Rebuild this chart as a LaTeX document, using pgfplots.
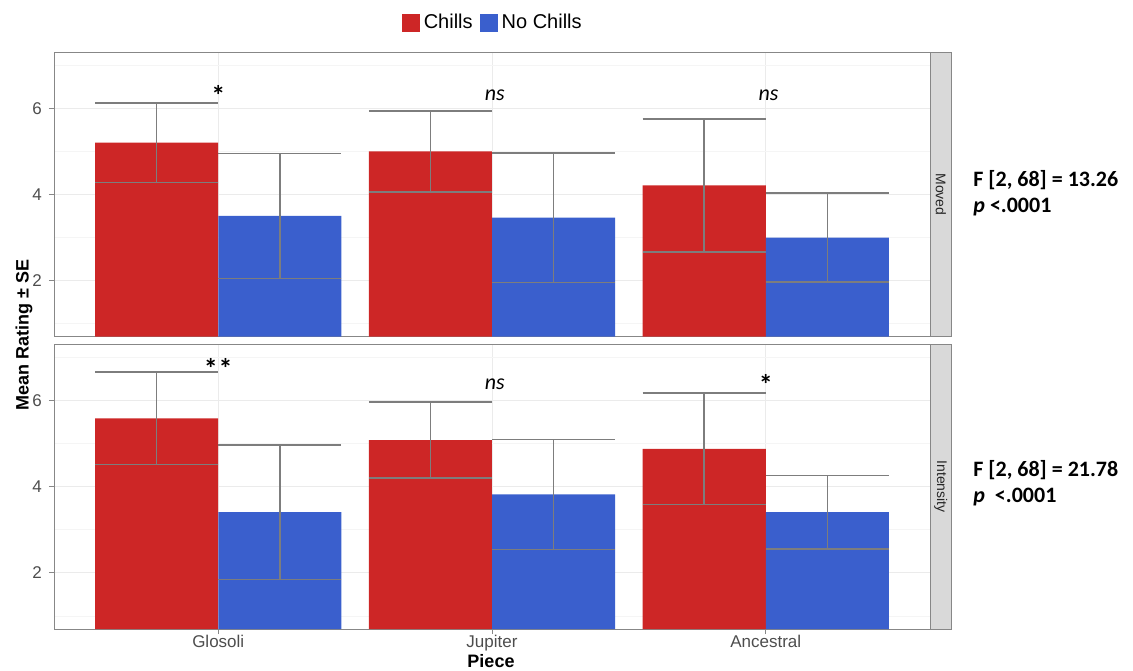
\documentclass[border=0pt]{standalone}
\usepackage{pgfplots}
\usepackage{pgfplotstable}
\pgfplotsset{compat=1.18}
\usepackage{fontspec}
\setmainfont{Liberation Sans}
\newfontfamily\calib{Carlito}
\definecolor{chills}{RGB}{205,38,38}
\definecolor{nochills}{RGB}{58,95,205}
\definecolor{ticktxt}{RGB}{77,77,77}
\definecolor{stripbg}{RGB}{217,217,217}
\definecolor{errc}{RGB}{125,125,125}
\definecolor{bordc}{RGB}{135,135,135}

\pgfplotstableread{
x y e
1 5.20 0.92
2 5.00 0.94
3 4.21 1.54
}\movedC
\pgfplotstableread{
x y e
1 3.50 1.45
2 3.46 1.50
3 3.00 1.03
}\movedN
\pgfplotstableread{
x y e
1 5.585 1.075
2 5.08 0.88
3 4.88 1.29
}\intC
\pgfplotstableread{
x y e
1 3.41 1.56
2 3.82 1.28
3 3.41 0.855
}\intN

\pgfplotsset{
  panel/.style={
    scale only axis, width=438pt, height=142.3pt,
    anchor=south west,
    xmin=0.4, xmax=3.6, ymin=0.7, ymax=7.3,
    ybar, bar width=61.59pt,
    ytick={2,4,6}, minor ytick={1,3,5,7}, xtick={1,2,3},
    ymajorgrids, yminorgrids, xmajorgrids,
    major grid style={draw=black!8, line width=0.5pt},
    minor grid style={draw=black!4, line width=0.4pt},
    axis line style={draw=bordc, line width=0.5pt},
    tick align=outside, tick pos=left,
    major tick length=2.5pt, minor tick length=0pt,
    tick style={draw=bordc, line width=0.5pt},
    /pgf/number format/assume math mode=true,
    tick label style={font=\fontsize{8.5}{10}\selectfont, text=ticktxt},
    error bars/y dir=both, error bars/y explicit,
    error bars/error mark=|,
    error bars/error bar style={draw=errc, line width=0.75pt},
    error bars/error mark options={draw=errc, line width=0.75pt, mark size=30.8pt},
  },
  sqlegend/.style={legend image code/.code={\fill[##1] (0pt,-4.5pt) rectangle (9pt,4.5pt);}},
}

\begin{document}
\begin{tikzpicture}
\useasboundingbox (0,0) rectangle (566.5pt,335pt);

\begin{axis}[panel, name=top, at={(27pt,166.65pt)},
  xticklabels={}, xtick style={draw=none},
  legend style={at={(0.502,1.103)}, anchor=center, draw=none, fill=none,
    legend columns=2, font=\fontsize{10}{12}\selectfont, inner sep=0pt,
    /tikz/every even column/.append style={column sep=1.5pt}},
]
\addplot[ybar, bar shift=-30.8pt, fill=chills, draw=none, sqlegend]
  table[x=x, y=y, y error=e] {\movedC};
\addlegendentry{Chills}
\addplot[ybar, bar shift=30.8pt, fill=nochills, draw=none, sqlegend]
  table[x=x, y=y, y error=e] {\movedN};
\addlegendentry{No Chills}
\node[font=\calib\fontsize{14}{16}\selectfont\bfseries] at (axis cs:1,6.3) {*};
\node[font=\calib\fontsize{11}{13}\selectfont\itshape] at (axis cs:2.01,6.31) {ns};
\node[font=\calib\fontsize{11}{13}\selectfont\itshape] at (axis cs:3.01,6.31) {ns};
\end{axis}
\draw[fill=stripbg, draw=bordc, line width=0.5pt] (top.south east) rectangle ([xshift=10.85pt]top.north east);
\node[rotate=-90, font=\fontsize{7}{8}\selectfont, text=black!85] at ([xshift=5.4pt]top.east) {Moved};

\begin{axis}[panel, name=bot, at={(27pt,20.5pt)},
  xticklabels={Glosoli,Jupiter,Ancestral},
  xticklabel style={yshift=3pt},
]
\addplot[ybar, bar shift=-30.8pt, fill=chills, draw=none]
  table[x=x, y=y, y error=e] {\intC};
\addplot[ybar, bar shift=30.8pt, fill=nochills, draw=none]
  table[x=x, y=y, y error=e] {\intN};
\node[font=\calib\fontsize{14}{16}\selectfont\bfseries] at (axis cs:1,6.74) {*\kern0.5pt*};
\node[font=\calib\fontsize{11}{13}\selectfont\itshape] at (axis cs:2.01,6.37) {ns};
\node[font=\calib\fontsize{14}{16}\selectfont\bfseries] at (axis cs:3,6.37) {*};
\end{axis}
\draw[fill=stripbg, draw=bordc, line width=0.5pt] (bot.south east) rectangle ([xshift=10.85pt]bot.north east);
\node[rotate=-90, font=\fontsize{7}{8}\selectfont, text=black!85] at ([xshift=5.4pt]bot.east) {Intensity};

\node[rotate=90, font=\fontsize{9}{11}\selectfont\bfseries] at (12pt,167.5pt) {Mean Rating ± SE};
\node[font=\fontsize{9}{11}\selectfont\bfseries] at (245.5pt,4.5pt) {Piece};

\node[anchor=west, font=\calib\fontsize{11}{13}\selectfont\bfseries, inner sep=0pt] at (486.5pt,245pt) {F [2, 68] = 13.26};
\node[anchor=west, font=\calib\fontsize{11}{13}\selectfont\bfseries, inner sep=0pt] at (486.5pt,231.6pt) {\itshape p\upshape{} <.0001};
\node[anchor=west, font=\calib\fontsize{11}{13}\selectfont\bfseries, inner sep=0pt] at (486.5pt,100pt) {F [2, 68] = 21.78};
\node[anchor=west, font=\calib\fontsize{11}{13}\selectfont\bfseries, inner sep=0pt] at (486.5pt,86.6pt) {\itshape p\upshape{}\ \ <.0001};
\end{tikzpicture}
\end{document}
